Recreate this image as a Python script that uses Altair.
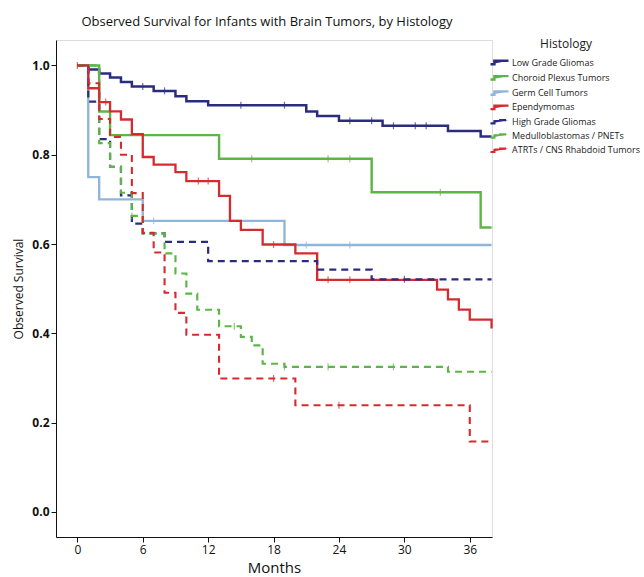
import altair as alt
import pandas as pd

# ---------------- data ----------------
SERIES = [
    "Low Grade Gliomas",
    "Choroid Plexus Tumors",
    "Germ Cell Tumors",
    "Ependymomas",
    "High Grade Gliomas",
    "Medulloblastomas / PNETs",
    "ATRTs / CNS Rhabdoid Tumors",
]
COLORS = ["#2B2C80", "#5DB548", "#8FB6DA", "#D52B2F", "#2B2C80", "#5DB548", "#D52B2F"]
DASHES = [[1, 0], [1, 0], [1, 0], [1, 0], [7, 5], [7, 5], [7, 5]]
WIDTHS = [2.5, 2.1, 2.1, 2.5, 2.4, 2.4, 2.4]

lgg_t = [0, 1, 2, 3, 4, 5, 7, 9, 10, 12, 21, 22, 24, 28, 34, 37, 38]
lgg_s = [1.0, 0.991, 0.982, 0.973, 0.963, 0.953, 0.943, 0.931, 0.920, 0.911,
         0.897, 0.887, 0.876, 0.865, 0.853, 0.841, 0.841]
lgg_cens = [6, 8, 15, 19, 25, 27, 29, 31, 32]

cpt_t = [0, 2, 3, 13, 27, 37, 38]
cpt_s = [1.0, 0.897, 0.844, 0.791, 0.716, 0.637, 0.637]
cpt_cens = [16, 23, 25, 33.3]

gct_t = [0, 1, 2, 6, 19, 38]
gct_s = [1.0, 0.750, 0.700, 0.652, 0.598, 0.598]
gct_cens = [7, 21, 25]

epn_t = [0, 1, 2, 3, 4, 5, 6, 7, 9, 10, 13, 14, 15, 17, 20, 22, 33, 34, 35, 36, 38]
epn_s = [1.0, 0.949, 0.918, 0.897, 0.879, 0.846, 0.795, 0.778, 0.761, 0.741, 0.708,
         0.652, 0.632, 0.599, 0.579, 0.520, 0.498, 0.476, 0.453, 0.431, 0.411]
epn_cens = [0, 2.6, 11.1, 12.0, 18, 23, 25]

hgg_t = [0, 1, 2, 3, 4, 5, 6, 8, 12, 22, 27, 38]
hgg_s = [1.0, 0.919, 0.835, 0.773, 0.709, 0.646, 0.624, 0.605, 0.562, 0.543, 0.521, 0.521]
hgg_cens = [30]

mb_t = [0, 2, 3, 4, 5, 6, 8, 9, 10, 11, 13, 15, 16, 17, 19, 34, 38]
mb_s = [1.0, 0.826, 0.773, 0.715, 0.663, 0.624, 0.579, 0.534, 0.489, 0.453, 0.416,
        0.392, 0.373, 0.332, 0.325, 0.314, 0.314]
mb_cens = [5, 14.4, 19, 23, 29]

atrt_t = [0, 1, 2, 3, 4, 5, 6, 7, 8, 9, 10, 13, 20, 36, 38]
atrt_s = [1.0, 0.96, 0.88, 0.84, 0.80, 0.714, 0.625, 0.581, 0.491, 0.446, 0.397,
          0.299, 0.239, 0.158, 0.158]
atrt_cens = [18, 24]

CURVES = [
    (lgg_t, lgg_s, lgg_cens),
    (cpt_t, cpt_s, cpt_cens),
    (gct_t, gct_s, gct_cens),
    (epn_t, epn_s, epn_cens),
    (hgg_t, hgg_s, hgg_cens),
    (mb_t, mb_s, mb_cens),
    (atrt_t, atrt_s, atrt_cens),
]

# ---------------- tables ----------------
rows, cens_rows = [], []
for k, (name, (ts, ss, cs)) in enumerate(zip(SERIES, CURVES)):
    for t, s in zip(ts, ss):
        rows.append({"series": name, "month": t, "surv": s, "k": k})
    for c in cs:
        val = [s for t, s in zip(ts, ss) if t <= c][-1]
        cens_rows.append({"series": name, "month": c, "surv": val, "k": k})
curve_df = pd.DataFrame(rows)
cens_df = pd.DataFrame(cens_rows)

FONT = "Open Sans"
x_scale = alt.Scale(domain=[-1.96, 38.04], nice=False, zero=False)
y_scale = alt.Scale(domain=[-0.056, 1.057], nice=False, zero=False)
color_scale = alt.Scale(domain=SERIES, range=COLORS)

STEP_PATH = "M -1.5 0.28 L -0.85 0.28 L -0.85 -0.28 L 1.5 -0.28"

legend = alt.Legend(
    title="Histology", orient="none", legendX=436, legendY=-1,
    titleFont=FONT, titleFontSize=12, titleFontWeight="normal", titleColor="#1a1a1a",
    titleAnchor="middle", titlePadding=4,
    labelFont=FONT, labelFontSize=9, labelColor="#1a1a1a", labelOffset=5,
    symbolType=STEP_PATH, symbolSize=144, symbolStrokeWidth=2.3,
    symbolFillColor="transparent", rowPadding=0.3, padding=0, labelLimit=200,
)

x_axis = alt.Axis(
    values=[0, 6, 12, 18, 24, 30, 36], title="Months", grid=False,
    labelFont=FONT, labelFontSize=12, labelColor="#111", labelPadding=2,
    tickSize=5, tickColor="#111", domainColor="#111",
    titleFont=FONT, titleFontSize=15, titleFontWeight="normal", titleColor="#111",
    titleY=35, titleBaseline="alphabetic",
)
y_axis = alt.Axis(
    values=[0, 0.2, 0.4, 0.6, 0.8, 1.0], format=".1f", title="Observed Survival",
    grid=False, labelFont=FONT, labelFontSize=12, labelFontWeight="bold",
    labelColor="#111", labelPadding=2, tickSize=5, tickColor="#111", domainColor="#111",
    titleFont=FONT, titleFontSize=12, titleFontWeight="normal", titleColor="#111",
    titleX=-38, titleBaseline="middle",
)

lines = alt.Chart(curve_df).mark_line(interpolate="step-after").encode(
    x=alt.X("month:Q", scale=x_scale, axis=x_axis),
    y=alt.Y("surv:Q", scale=y_scale, axis=y_axis),
    color=alt.Color("series:N", scale=color_scale, legend=legend, sort=SERIES),
    strokeDash=alt.StrokeDash("series:N", scale=alt.Scale(domain=SERIES, range=DASHES),
                              legend=legend, sort=SERIES),
    strokeWidth=alt.StrokeWidth("series:N", scale=alt.Scale(domain=SERIES, range=WIDTHS),
                                legend=None),
)

ticks = alt.Chart(cens_df).mark_tick(orient="vertical", size=7, thickness=1.2).encode(
    x=alt.X("month:Q", scale=x_scale),
    y=alt.Y("surv:Q", scale=y_scale),
    fill=alt.Fill("series:N", scale=color_scale, legend=None),
)

chart = (
    alt.layer(lines, ticks)
    .properties(
        width=436, height=497,
        padding={"left": 56, "top": 40, "right": 152, "bottom": 40},
        autosize=alt.AutoSizeParams(type="none"),
        title=alt.TitleParams(
            "Observed Survival for Infants with Brain Tumors, by Histology",
            font=FONT, fontSize=13, fontWeight="normal", color="#111",
            anchor="middle", dx=-7, offset=10,
        ),
    )
    .configure_view(stroke="#111", strokeWidth=1)
    .configure(background="white")
)

chart.save("out.html", embed_options={"renderer": "svg", "actions": False})
